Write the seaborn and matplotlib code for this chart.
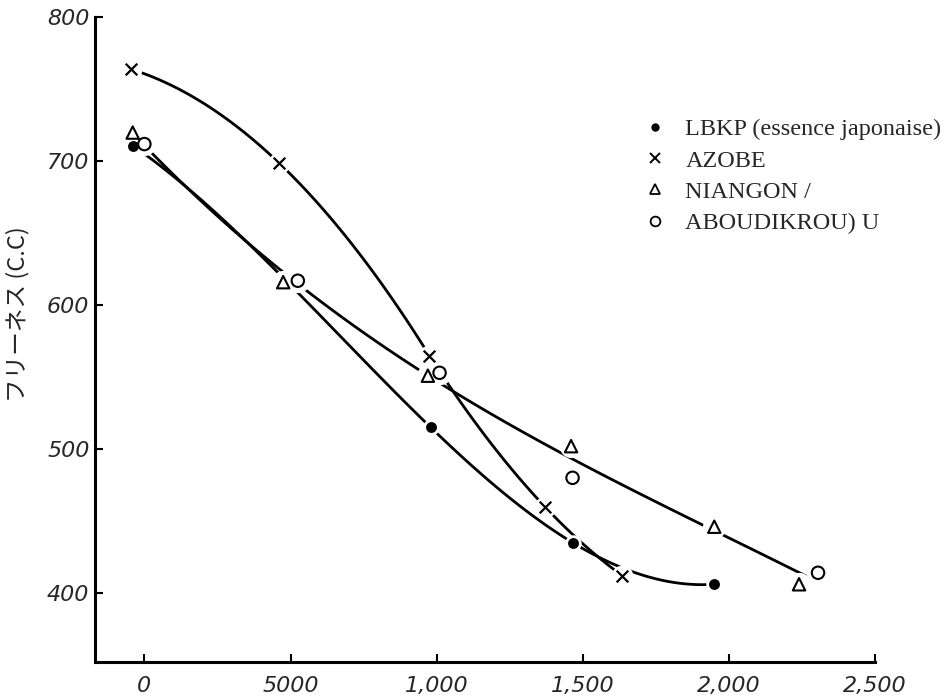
import numpy as np
import pandas as pd
import matplotlib
matplotlib.use("Agg")
import matplotlib.pyplot as plt
from matplotlib.lines import Line2D
import seaborn as sns

# 読み取った値 (pulp freeness vs beating)
lbkp_x = [-40, 980, 1465, 1950]
lbkp_y = [711, 515, 435, 406]

azobe_x = [-45, 460, 975, 1370, 1635]
azobe_y = [764, 699, 565, 460, 412]

niangon_x = [-40, 475, 970, 1460, 1950, 2240]
niangon_y = [720, 616, 551, 502, 446, 406]

aboudikrou_x = [0, 525, 1010, 1465, 2305]
aboudikrou_y = [712, 617, 553, 480, 414]

x_ticks = [0, 500, 1000, 1500, 2000, 2500]
x_tick_labels = ["0", "5000", "1,000", "1,500", "2,000", "2,500"]
y_ticks = [400, 500, 600, 700, 800]

legend_labels = ["LBKP (essence japonaise)", "AZOBE", "NIANGON /", "ABOUDIKROU) U"]

sns.set_theme(style="ticks")
plt.rcParams["font.family"] = ["DejaVu Sans"]

fig = plt.figure(figsize=(9.47, 6.99), dpi=100)
ax = fig.add_axes([0.1003, 0.053, 0.8237, 0.922])

line_kw = dict(scatter=False, ci=None, truncate=True,
               line_kws=dict(color="black", lw=2.0, zorder=2))

# 曲線 (AZOBE は変曲点の × で二つに分けて描く)
sns.regplot(x=azobe_x[:3], y=azobe_y[:3], ax=ax, order=2, **line_kw)
sns.regplot(x=azobe_x[2:], y=azobe_y[2:], ax=ax, order=2, **line_kw)
sns.regplot(x=lbkp_x, y=lbkp_y, ax=ax, order=3, **line_kw)
shared = pd.DataFrame({"x": niangon_x + aboudikrou_x,
                       "y": niangon_y + aboudikrou_y})
sns.regplot(data=shared, x="x", y="y", ax=ax, order=3, **line_kw)

# 点 (白い縁で線に隙間をつくる)
series = [
    (lbkp_x, lbkp_y, "o", 40, "black"),
    (azobe_x, azobe_y, "x", 70, "black"),
    (niangon_x, niangon_y, "^", 80, "none"),
    (aboudikrou_x, aboudikrou_y, "o", 80, "none"),
]
for xs, ys, m, s, fc in series:
    ax.scatter(xs, ys, s=s * 3.5, marker="o", color="white", zorder=3,
               clip_on=False, linewidths=0)
for xs, ys, m, s, fc in series:
    if m == "x":
        sns.scatterplot(x=xs, y=ys, marker=m, s=s, color="black",
                        linewidth=1.6, ax=ax, zorder=4, clip_on=False)
    else:
        sns.scatterplot(x=xs, y=ys, marker=m, s=s, facecolor=fc,
                        edgecolor="black", linewidth=1.5, ax=ax, zorder=4,
                        clip_on=False)

ax.set_xlim(-169, 2500)
ax.set_ylim(352, 800)
ax.set_xticks(x_ticks)
ax.set_xticklabels(x_tick_labels, fontsize=16, style="italic")
ax.set_yticks(y_ticks)
ax.set_yticklabels([str(v) for v in y_ticks], fontsize=16, style="italic")
ax.tick_params(axis="both", direction="in", length=6, width=1.5, color="black")
ax.tick_params(axis="x", pad=10)
ax.tick_params(axis="y", pad=4)
sns.despine(ax=ax)
for side in ["left", "bottom"]:
    ax.spines[side].set_linewidth(2.2)
    ax.spines[side].set_color("black")

ax.set_ylabel("フリーネス (C.C)", fontsize=17,
              family=["Noto Sans CJK JP", "DejaVu Sans"])
ax.yaxis.set_label_coords(-0.084, 0.54)
ax.set_xlabel("")

handles = [
    Line2D([], [], ls="none", marker="o", ms=5, color="black"),
    Line2D([], [], ls="none", marker="x", ms=7, color="black", mew=1.4),
    Line2D([], [], ls="none", marker="^", ms=7, mfc="none", mec="black", mew=1.3),
    Line2D([], [], ls="none", marker="o", ms=7, mfc="none", mec="black", mew=1.3),
]
fig.legend(handles, legend_labels, loc="upper left",
           bbox_to_anchor=(643 / 947, 1 - 118 / 699), frameon=False,
           borderpad=0, borderaxespad=0, handlelength=1.0, handletextpad=0.74,
           labelspacing=0.39, prop={"family": "Liberation Serif", "size": 17.5})

fig.savefig("out.png", dpi=100)
